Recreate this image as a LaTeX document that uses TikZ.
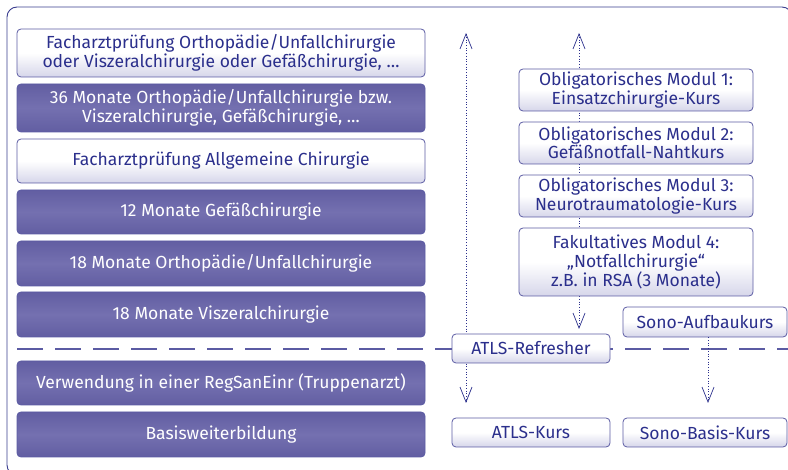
\documentclass[tikz,border=0pt]{standalone}
\usepackage{fontspec}
\setmainfont{Fira Sans}
\usetikzlibrary{arrows.meta, backgrounds}
\definecolor{BWnavy}{HTML}{2B2F8C}
\definecolor{BWframe}{HTML}{3A3D8F}
\definecolor{BWedge}{HTML}{5B5BA3}
\definecolor{BWpurple}{HTML}{7470B0}
\definecolor{BWpurpleDark}{HTML}{625EA2}
\definecolor{BWlav}{HTML}{D6D6EA}
\tikzset{
   box/.style={draw=BWedge, line width=0.8pt, rounded corners=4pt,
      inner sep=0pt, align=center, font=\fontsize{17.5}{18.5}\selectfont},
   whitebox/.style={box, text=BWnavy, top color=white, bottom color=BWlav,
      middle color=white},
   purplebox/.style={box, text=white, top color=BWpurpleDark,
      bottom color=BWpurpleDark, middle color=BWpurple},
   flow/.style={BWnavy, dotted, line width=0.7pt},
   tip/.tip={Straight Barb[length=15pt, width=12pt, line width=0.7pt, sep=0pt]}
}
\begin{document}
\begin{tikzpicture}[x=1pt, y=-1pt]
   \useasboundingbox (0,0) rectangle (788,470);
   % frame
   \draw[BWframe, line width=0.9pt, rounded corners=10pt] (7,7) rectangle (792,475);
   % left column
   \node[whitebox, minimum width=408pt, minimum height=48pt] (fachB) at (221,53)
      {Facharztprüfung Orthopädie/Unfallchirurgie\\oder Viszeralchirurgie oder Gefäßchirurgie, \dots};
   \node[purplebox, minimum width=408pt, minimum height=48pt] (mon36) at (221,108)
      {36 Monate Orthopädie/Unfallchirurgie bzw.\\Viszeralchirurgie, Gefäßchirurgie, \dots};
   \node[whitebox, minimum width=408pt, minimum height=44pt] (fachA) at (221,161)
      {Facharztprüfung Allgemeine Chirurgie};
   \node[purplebox, minimum width=408pt, minimum height=44pt] (gef) at (221,212)
      {12 Monate Gefäßchirurgie};
   \node[purplebox, minimum width=408pt, minimum height=45pt] (ortho) at (221,263.5)
      {18 Monate Orthopädie/Unfallchirurgie};
   \node[purplebox, minimum width=408pt, minimum height=45pt] (visz) at (221,314.5)
      {18 Monate Viszeralchirurgie};
   \node[purplebox, minimum width=408pt, minimum height=44pt] (truppe) at (221,383)
      {Verwendung in einer RegSanEinr (Truppenarzt)};
   \node[purplebox, minimum width=408pt, minimum height=45pt] (basis) at (221,434.5)
      {Basisweiterbildung};
   % modules
   \node[whitebox, minimum width=234pt, minimum height=42pt] (mod1) at (636,90)
      {Obligatorisches Modul 1:\\Einsatzchirurgie-Kurs};
   \node[whitebox, minimum width=234pt, minimum height=42pt] (mod2) at (636,143)
      {Obligatorisches Modul 2:\\Gefäßnotfall-Nahtkurs};
   \node[whitebox, minimum width=234pt, minimum height=42pt] (mod3) at (636,196)
      {Obligatorisches Modul 3:\\Neurotraumatologie-Kurs};
   \node[whitebox, minimum width=234pt, minimum height=68pt] (mod4) at (636,262)
      {Fakultatives Modul 4:\\„Notfallchirurgie“\\z.B. in RSA (3 Monate)};
   % courses
   \node[whitebox, minimum width=164pt, minimum height=30pt] (sonoA) at (705,322)
      {Sono-Aufbaukurs};
   \node[whitebox, minimum width=158pt, minimum height=29pt] (atlsR) at (531,348.5)
      {ATLS-Refresher};
   \node[whitebox, minimum width=158pt, minimum height=29pt] (atlsK) at (531,432.5)
      {ATLS-Kurs};
   \node[whitebox, minimum width=164pt, minimum height=29pt] (sonoB) at (705,432.5)
      {Sono-Basis-Kurs};
   % free ends
   \coordinate (dashL) at (17,349);
   \coordinate (dashR) at (790,349);
   \coordinate (atlsTop) at (466,33);
   \coordinate (atlsEnd) at (466,403);
   \coordinate (modTop) at (579,33);
   \coordinate (modEnd) at (579,329);
   \coordinate (sonoEnd) at (708,403);
   \begin{scope}[on background layer]
      \draw[BWedge, line width=1.2pt, dash pattern=on 26pt off 12pt] (dashL) -- (dashR);
      \draw[flow, {tip}-{tip}] (atlsTop) -- (atlsEnd);
      \draw[flow, {tip}-{tip}] (modTop) -- (modEnd);
   \end{scope}
   \draw[flow, -{tip}] (sonoA.south -| sonoEnd) -- (sonoEnd);
\end{tikzpicture}
\end{document}
